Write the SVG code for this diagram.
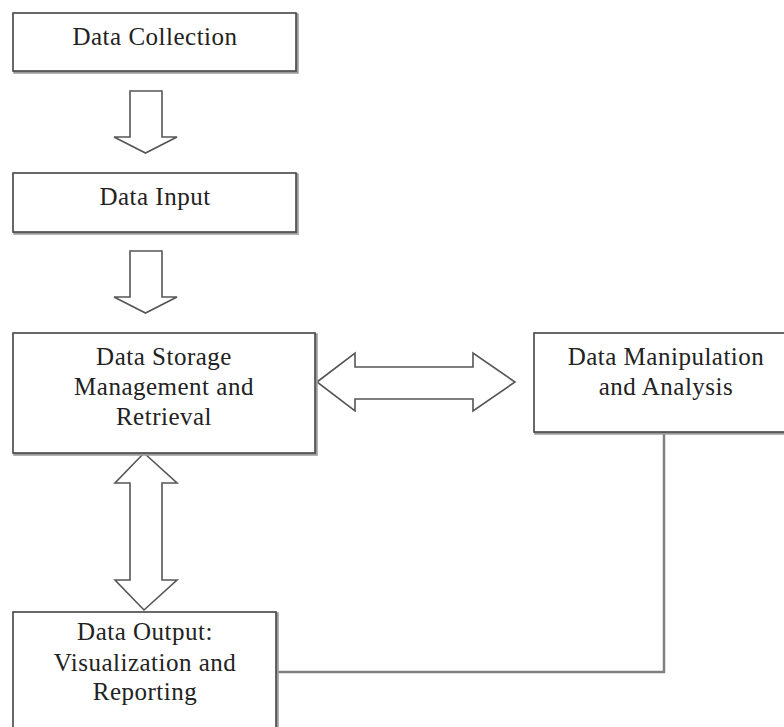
<svg xmlns="http://www.w3.org/2000/svg" width="784" height="727" viewBox="0 0 784 727">
<style>
.shadow{fill:none;stroke:#9a9a9a;stroke-width:2.5}
.box{fill:#fff;stroke:#444;stroke-width:1.6}
.arr{fill:#fff;stroke:#555;stroke-width:1.6;stroke-linejoin:miter}
.lbl{font-family:"Liberation Serif","Times New Roman",serif;font-size:25px;fill:#222;text-anchor:middle;letter-spacing:0.5px}
.conn{fill:none;stroke:#808080;stroke-width:2.5}
</style>
<rect width="784" height="727" fill="#fff"/>
<g id="connectors">
<polyline class="conn" points="276,672 664,672 664,432"/>
<path class="arr" d="M130,91 H162 V137 H177 L145.5,153 L114,137 H130 Z"/>
<path class="arr" d="M130,251 H162 V297 H177 L145.5,313 L114,297 H130 Z"/>
<path class="arr" d="M144,453 L177,483 H162 V580 H177 L144,610 L115,580 H130 V483 H115 Z"/>
<path class="arr" d="M317,382 L355,353 V367 H473 V353 L515,382 L473,411 V399 H355 V411 Z"/>
</g>
<g id="data-collection">
<rect class="shadow" x="14.5" y="14.5" width="283" height="58"/>
<rect class="box" x="13" y="13" width="283" height="58"/>
<text class="lbl" x="155" y="45">Data Collection</text>
</g>
<g id="data-input">
<rect class="shadow" x="14.5" y="174.5" width="283" height="59"/>
<rect class="box" x="13" y="173" width="283" height="59"/>
<text class="lbl" x="155" y="205">Data Input</text>
</g>
<g id="data-storage">
<rect class="shadow" x="14.5" y="334.5" width="302" height="120"/>
<rect class="box" x="13" y="333" width="302" height="120"/>
<text class="lbl" x="164" y="365">Data Storage</text>
<text class="lbl" x="164" y="395">Management and</text>
<text class="lbl" x="164" y="425">Retrieval</text>
</g>
<g id="data-manipulation">
<rect class="shadow" x="535.5" y="334.5" width="260" height="99"/>
<rect class="box" x="534" y="333" width="260" height="99"/>
<text class="lbl" x="666" y="365">Data Manipulation</text>
<text class="lbl" x="666" y="395">and Analysis</text>
</g>
<g id="data-output">
<rect class="shadow" x="14.5" y="613.5" width="263" height="140"/>
<rect class="box" x="13" y="612" width="263" height="140"/>
<text class="lbl" x="145" y="640">Data Output:</text>
<text class="lbl" x="145" y="671">Visualization and</text>
<text class="lbl" x="145" y="700">Reporting</text>
</g>
</svg>
